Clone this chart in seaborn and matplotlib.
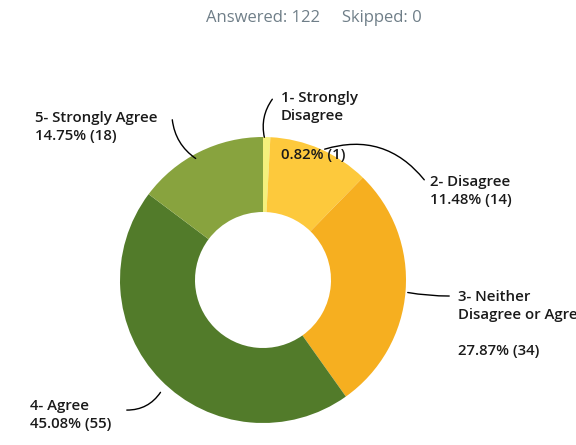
import matplotlib
matplotlib.use("Agg")
import matplotlib.pyplot as plt
import seaborn as sns
import numpy as np

sns.set_theme(style="white")
plt.rcParams['font.family'] = ['Open Sans', 'DejaVu Sans']

categories = ["1- Strongly\nDisagree", "2- Disagree", "3- Neither\nDisagree or Agree",
              "4- Agree", "5- Strongly Agree"]
percents = [0.82, 11.48, 27.87, 45.08, 14.75]
counts = [1, 14, 34, 55, 18]
colors = ["#f5f07c", "#fdc93c", "#f6af20", "#527b2a", "#88a33e"]

W, H = 576, 445
fig = plt.figure(figsize=(W / 100, H / 100), dpi=100)
ax = fig.add_axes([0, 0, 1, 1])

cx, cy = 263, H - 280
R, r_in = 143, 68
wedges, _ = ax.pie(counts, colors=colors, startangle=90, counterclock=False,
                   radius=R, center=(cx, cy),
                   wedgeprops=dict(width=R - r_in, edgecolor="none", linewidth=0))
ax.set_xlim(0, W)
ax.set_ylim(0, H)
ax.set_aspect("equal")
ax.axis("off")

def P(x, y):
    return (x, H - y)

fs = 10.8
tk = dict(fontsize=fs, color="#1a1a1a", fontweight="semibold", va="center", ha="left",
          linespacing=1.3)

# labels
ax.text(*P(281, 107), categories[0], **tk)
ax.text(*P(281, 155), f"{percents[0]:.2f}% ({counts[0]})", **tk)
ax.text(*P(430, 191), f"{categories[1]}\n{percents[1]:.2f}% ({counts[1]})", **tk)
ax.text(*P(458, 306), categories[2], **tk)
ax.text(*P(458, 351), f"{percents[2]:.2f}% ({counts[2]})", **tk)
ax.text(*P(30, 415), f"{categories[3]}\n{percents[3]:.2f}% ({counts[3]})", **tk)
ax.text(*P(35, 127), f"{categories[4]}\n{percents[4]:.2f}% ({counts[4]})", **tk)

lk = dict(color="black", lw=1.0)
def lead(p0, p1, rad):
    ax.annotate("", xy=P(*p1), xytext=P(*p0),
                arrowprops=dict(arrowstyle="-", connectionstyle=f"arc3,rad={rad}", **lk))

lead((265, 140), (274, 97), -0.25)
lead((322, 150), (426, 182), -0.35)
lead((405, 292), (452, 296), 0.05)
lead((162, 390), (124, 410), -0.3)
lead((198, 160), (172, 117), -0.25)

ax.text(*P(314, 18), "Answered: 122     Skipped: 0", fontsize=12, color="#6f7e88",
        ha="center", va="center")

fig.savefig("out.png", dpi=100)
